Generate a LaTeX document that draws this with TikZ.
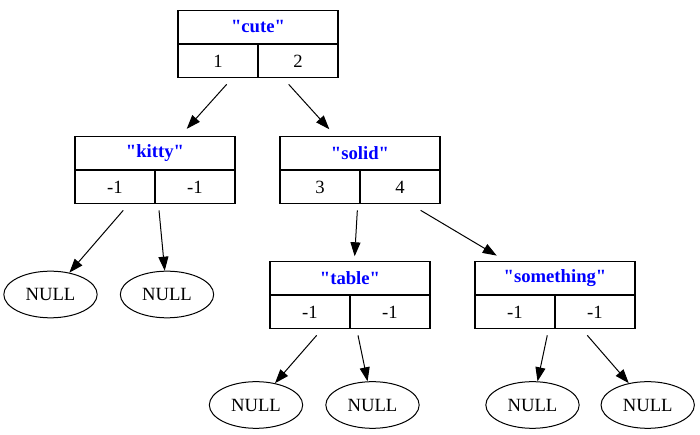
\documentclass[tikz,border=0pt]{standalone}
\usepackage{fontspec}
\setmainfont{Liberation Serif}
\usetikzlibrary{arrows.meta,shapes.geometric}

\newcommand{\qt}[1]{\textquotedbl#1\textquotedbl}

\begin{document}
\begin{tikzpicture}[x=0.75pt, y=0.75pt]
			\tikzstyle{key} = [rectangle, draw=black, line width=0.8pt, minimum width=120pt, minimum height=25pt, inner sep=0pt, font=\fontsize{14}{16}\selectfont\bfseries, text=blue]
			\tikzstyle{ptr} = [rectangle, draw=black, line width=0.8pt, minimum width=60pt, minimum height=25pt, inner sep=0pt, font=\fontsize{14}{16}\selectfont]
			\tikzstyle{leaf} = [ellipse, draw=black, line width=0.75pt, minimum width=70pt, minimum height=35pt, inner sep=0pt, font=\fontsize{14}{16}\selectfont]
			\tikzstyle{link} = [-{Triangle[length=10.5pt, width=7.5pt]}, line width=0.75pt]

			\useasboundingbox (0,0) rectangle (700,435);

			\node [key] (cute) at (258,408.25) {\qt{cute}};
			\node [ptr, anchor=north west] (cute1) at (cute.south west) {1};
			\node [ptr, anchor=north east] (cute2) at (cute.south east) {2};

			\node [key] (kitty) at (155,282.25) {\qt{kitty}};
			\node [ptr, anchor=north west] (kitty1) at (kitty.south west) {-1};
			\node [ptr, anchor=north east] (kitty2) at (kitty.south east) {-1};
			\draw [link] ([xshift=6.5pt, yshift=-4.5pt]cute1.south) -- ([xshift=23.8pt, yshift=5pt]kitty.north);

			\node [key] (solid) at (360,282.25) {\qt{solid}};
			\node [ptr, anchor=north west] (solid1) at (solid.south west) {3};
			\node [ptr, anchor=north east] (solid2) at (solid.south east) {4};
			\draw [link] ([xshift=-7pt, yshift=-4.5pt]cute2.south) -- ([xshift=-23pt, yshift=4.7pt]solid.north);

			\node [leaf] (n1) at (50.5,140.5) {NULL};
			\draw [link] ([xshift=6.2pt, yshift=-4.5pt]kitty1.south) -- (n1);

			\node [leaf] (n2) at (167,140.5) {NULL};
			\draw [link] ([xshift=-27pt, yshift=-4.5pt]kitty2.south) -- (n2);

			\node [key] (table) at (350,157.25) {\qt{table}};
			\node [ptr, anchor=north west] (table1) at (table.south west) {-1};
			\node [ptr, anchor=north east] (table2) at (table.south east) {-1};
			\draw [link] ([xshift=28pt, yshift=-4.5pt]solid1.south) -- ([xshift=3.5pt, yshift=3.2pt]table.north);

			\node [key] (something) at (555,157.25) {\qt{something}};
			\node [ptr, anchor=north west] (something1) at (something.south west) {-1};
			\node [ptr, anchor=north east] (something2) at (something.south east) {-1};
			\draw [link] ([xshift=15.5pt, yshift=-4.5pt]solid2.south) -- ([xshift=-43.7pt, yshift=3.7pt]something.north);

			\node [leaf] (n3) at (256,30) {NULL};
			\draw [link] ([xshift=5pt, yshift=-4.5pt]table1.south) -- (n3);

			\node [leaf] (n4) at (372.5,30) {NULL};
			\draw [link] ([xshift=-24pt, yshift=-4.5pt]table2.south) -- (n4);

			\node [leaf] (n5) at (532.5,30) {NULL};
			\draw [link] ([xshift=24.2pt, yshift=-4.5pt]something1.south) -- (n5);

			\node [leaf] (n6) at (647.7,30) {NULL};
			\draw [link] ([xshift=-5.8pt, yshift=-4.5pt]something2.south) -- (n6);
\end{tikzpicture}
\end{document}
